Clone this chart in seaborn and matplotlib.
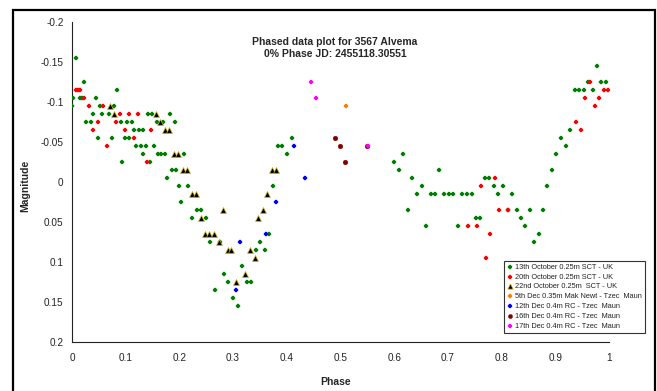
import matplotlib
matplotlib.use("Agg")
import matplotlib.pyplot as plt
from matplotlib.patches import Rectangle
import seaborn as sns
import pandas as pd

# Phase / magnitude pairs for each observing session
oct13_phase = [0.000, 0.002, 0.007, 0.015, 0.019, 0.023, 0.027, 0.035, 0.040, 0.044,
               0.048, 0.052, 0.056, 0.069, 0.074, 0.078, 0.083, 0.091, 0.094, 0.099,
               0.107, 0.103, 0.111, 0.115, 0.124, 0.132, 0.119, 0.128, 0.137, 0.132,
               0.141, 0.149, 0.145, 0.153, 0.158, 0.170, 0.161, 0.165, 0.174, 0.177,
               0.183, 0.186, 0.194, 0.191, 0.199, 0.216, 0.203, 0.208, 0.224, 0.233,
               0.241, 0.249, 0.257, 0.266, 0.275, 0.283, 0.291, 0.300, 0.309, 0.316,
               0.326, 0.334, 0.342, 0.350, 0.359, 0.367, 0.375, 0.383, 0.391, 0.400,
               0.409,
               0.600, 0.609, 0.617, 0.625, 0.633, 0.642, 0.651, 0.659, 0.668, 0.676,
               0.684, 0.693, 0.702, 0.710, 0.718, 0.726, 0.735, 0.744, 0.752, 0.760,
               0.769, 0.777, 0.786, 0.793, 0.802, 0.811, 0.819, 0.828, 0.836, 0.844,
               0.852, 0.861, 0.869, 0.877, 0.885, 0.894, 0.902, 0.911, 0.919, 0.927,
               0.936, 0.945, 0.953, 0.961, 0.970, 0.978, 0.986, 0.995]
oct13_mag = [-0.095, -0.105, -0.155, -0.105, -0.105, -0.125, -0.075, -0.075, -0.085, -0.105,
             -0.055, -0.095, -0.085, -0.085, -0.055, -0.095, -0.115, -0.075, -0.025, -0.055,
             -0.055, -0.075, -0.075, -0.065, -0.065, -0.065, -0.045, -0.045, -0.045, -0.035,
             -0.085, -0.085, -0.025, -0.045, -0.075, -0.075, -0.035, -0.035, -0.035, -0.005,
             -0.085, -0.015, -0.015, -0.075, 0.005, 0.005, 0.025, -0.035, 0.045, 0.035,
             0.035, 0.045, 0.075, 0.135, 0.075, 0.115, 0.125, 0.145, 0.155, 0.105,
             0.125, 0.125, 0.085, 0.075, 0.085, 0.065, 0.005, -0.045, -0.045, -0.035,
             -0.055,
             -0.025, -0.015, -0.035, 0.035, -0.005, 0.015, 0.005, 0.055, 0.015, 0.015,
             -0.015, 0.015, 0.015, 0.015, 0.055, 0.015, 0.015, 0.015, 0.045, 0.045,
             -0.005, -0.005, 0.005, 0.015, 0.005, 0.035, 0.015, 0.035, 0.045, 0.055,
             0.035, 0.075, 0.065, 0.035, 0.005, -0.015, -0.035, -0.055, -0.045, -0.065,
             -0.115, -0.115, -0.115, -0.125, -0.115, -0.145, -0.125, -0.125]

oct20_phase = [0.007, 0.011, 0.015, 0.022, 0.032, 0.040, 0.048, 0.058, 0.065, 0.082,
               0.090, 0.098, 0.107, 0.115, 0.123, 0.140, 0.148,
               0.738, 0.755, 0.762, 0.771, 0.779, 0.788, 0.796, 0.812, 0.939, 0.948,
               0.956, 0.964, 0.973, 0.981, 0.990, 0.998]
oct20_mag = [-0.115, -0.115, -0.115, -0.105, -0.095, -0.065, -0.075, -0.095, -0.045, -0.075,
             -0.085, -0.065, -0.085, -0.055, -0.085, -0.025, -0.065,
             0.055, 0.055, 0.005, 0.095, 0.065, -0.005, 0.035, 0.035, -0.075, -0.065,
             -0.105, -0.125, -0.095, -0.105, -0.115, -0.115]

oct22_phase = [0.071, 0.079, 0.156, 0.164, 0.174, 0.180, 0.190, 0.197, 0.207, 0.214,
               0.223, 0.230, 0.240, 0.248, 0.256, 0.264, 0.274, 0.281, 0.290, 0.297,
               0.306, 0.323, 0.331, 0.340, 0.347, 0.356, 0.364, 0.373, 0.380]
oct22_mag = [-0.095, -0.085, -0.085, -0.075, -0.065, -0.065, -0.035, -0.035, -0.015, -0.015,
             0.015, 0.015, 0.045, 0.065, 0.065, 0.065, 0.075, 0.035, 0.085, 0.085,
             0.125, 0.115, 0.085, 0.095, 0.045, 0.035, 0.015, -0.015, -0.015]

dec05_phase = [0.511]
dec05_mag = [-0.095]

dec12_phase = [0.306, 0.313, 0.362, 0.380, 0.414, 0.433]
dec12_mag = [0.135, 0.075, 0.065, 0.025, -0.045, -0.005]

dec16_phase = [0.489, 0.499, 0.508, 0.549]
dec16_mag = [-0.055, -0.045, -0.025, -0.045]

dec17_phase = [0.445, 0.454, 0.552]
dec17_mag = [-0.125, -0.105, -0.045]

session_labels = ["13th October 0.25m SCT - UK",
                  "20th October 0.25m SCT - UK",
                  "22nd October 0.25m  SCT - UK",
                  "5th Dec 0.35m Mak Newt - Tzec  Maun",
                  "12th Dec 0.4m RC - Tzec  Maun",
                  "16th Dec 0.4m RC - Tzec  Maun",
                  "17th Dec 0.4m RC - Tzec  Maun"]

x_ticks = [0, 0.1, 0.2, 0.3, 0.4, 0.5, 0.6, 0.7, 0.8, 0.9, 1.0]
x_tick_labels = ["0", "0.1", "0.2", "0.3", "0.4", "0.5", "0.6", "0.7", "0.8", "0.9", "1"]
y_ticks = [-0.2, -0.15, -0.1, -0.05, 0, 0.05, 0.1, 0.15, 0.2]
y_tick_labels = ["-0.2", "-0.15", "-0.1", "-0.05", "0", "0.05", "0.1", "0.15", "0.2"]

title_text = "Phased data plot for 3567 Alvema\n0% Phase JD: 2455118.30551"

sns.set_style("white")
plt.rcParams["font.family"] = ["Liberation Sans", "DejaVu Sans"]

frames = []
for lab, ph, mg in zip(session_labels,
                       [oct13_phase, oct20_phase, oct22_phase, dec05_phase,
                        dec12_phase, dec16_phase, dec17_phase],
                       [oct13_mag, oct20_mag, oct22_mag, dec05_mag,
                        dec12_mag, dec16_mag, dec17_mag]):
    frames.append(pd.DataFrame({"Phase": ph, "Magnitude": mg, "Session": lab}))
df = pd.concat(frames, ignore_index=True)

styles = {
    session_labels[0]: dict(color="#008000", marker="P", s=11, edgecolor="#008000", linewidth=0.2),
    session_labels[1]: dict(color="#ff0000", marker="P", s=11, edgecolor="#ff0000", linewidth=0.2),
    session_labels[2]: dict(color="#000000", marker="^", s=18, edgecolor="#d9b800", linewidth=0.5),
    session_labels[3]: dict(color="#ff8000", marker="P", s=11, edgecolor="#ff8000", linewidth=0.2),
    session_labels[4]: dict(color="#0000ff", marker="P", s=11, edgecolor="#0000ff", linewidth=0.2),
    session_labels[5]: dict(color="#800000", marker="o", s=12, edgecolor="#800000", linewidth=0.2),
    session_labels[6]: dict(color="#ff00ff", marker="P", s=11, edgecolor="#ff00ff", linewidth=0.2),
}

fig = plt.figure(figsize=(6.57, 3.91), dpi=100)
ax = fig.add_axes([72 / 657, 49 / 391, 537 / 657, 320 / 391])

for lab in session_labels:
    sub = df[df["Session"] == lab]
    sns.scatterplot(data=sub, x="Phase", y="Magnitude", ax=ax, label=lab, zorder=3,
                    **styles[lab])

ax.set_xlim(0, 1)
ax.set_ylim(0.2, -0.2)
ax.set_xticks(x_ticks)
ax.set_xticklabels(x_tick_labels)
ax.set_yticks(y_ticks)
ax.set_yticklabels(y_tick_labels)
ax.tick_params(axis="both", direction="inout", length=6, width=0.8, color="#222222",
               labelsize=7.2, labelcolor="#222222", pad=3)
ax.tick_params(axis="x", pad=5)

for side in ["top", "right"]:
    ax.spines[side].set_visible(False)
for side in ["left", "bottom"]:
    ax.spines[side].set_color("#222222")
    ax.spines[side].set_linewidth(0.8)

ax.set_xlabel("Phase", fontsize=7.5, fontweight="bold")
ax.set_ylabel("Magnitude", fontsize=7.5, fontweight="bold")
ax.xaxis.set_label_coords((336 - 72) / 537, (342 - 377) / 320)
ax.yaxis.set_label_coords((30.5 - 72) / 537, (342 - 186) / 320)

fig.text(335 / 657, 1 - 48 / 391, title_text, ha="center", va="center",
         fontsize=7.5, fontweight="bold", linespacing=1.15)

leg = ax.legend(loc="upper left", bbox_to_anchor=(504 / 657, 1 - 260.7 / 391),
                bbox_transform=fig.transFigure, fontsize=5.3, frameon=True,
                fancybox=False, edgecolor="#333333", framealpha=1,
                handlelength=0.8, handletextpad=0.35, labelspacing=0.36,
                borderpad=0.4, borderaxespad=0, markerscale=0.9)
leg.get_frame().set_linewidth(0.8)
for t in leg.get_texts():
    t.set_color("#222222")

# chart-area border
fig.patches.append(Rectangle((13 / 657, -0.1), (655.5 - 13) / 657, 1 - 10 / 391 + 0.1,
                             transform=fig.transFigure, fill=False, lw=1.6,
                             edgecolor="black", zorder=10))

fig.savefig("out.png", dpi=100)
